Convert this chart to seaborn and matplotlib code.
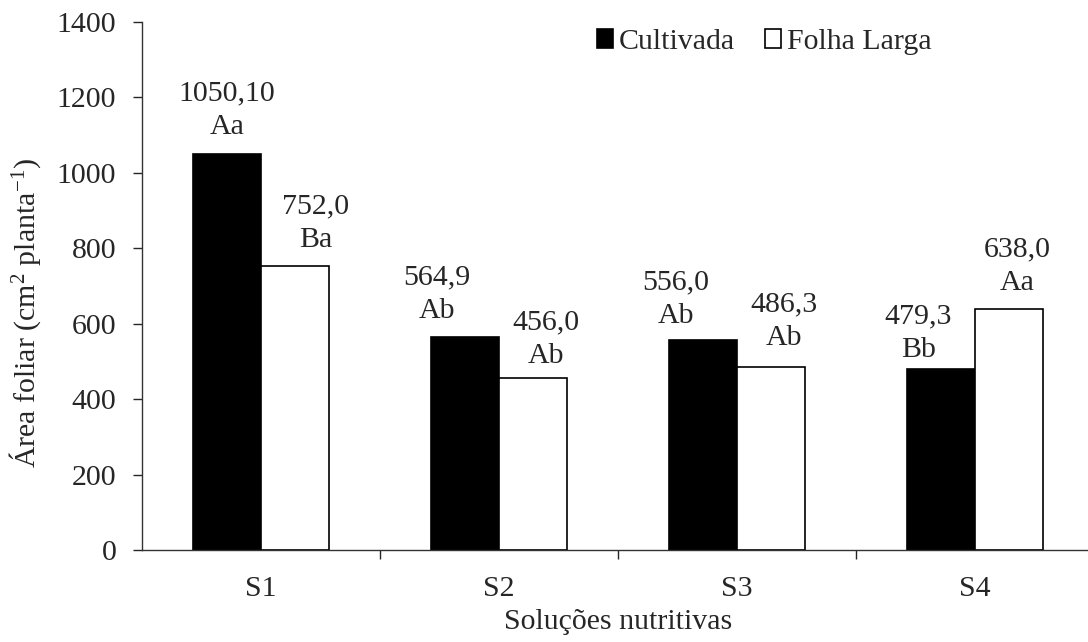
#!/usr/bin/env python3
# -*- coding: utf-8 -*-

import seaborn as sns
import matplotlib.pyplot as plt
import pandas as pd

# Data
solutions = ["S1", "S2", "S3", "S4"]
cultivada = [1050.10, 564.9, 556.0, 479.3]
folha_larga = [752.0, 456.0, 486.3, 638.0]
cultivada_text = ["1050,10", "564,9", "556,0", "479,3"]
folha_larga_text = ["752,0", "456,0", "486,3", "638,0"]
cultivada_letters = ["Aa", "Ab", "Ab", "Bb"]
folha_larga_letters = ["Ba", "Ab", "Ab", "Aa"]
groups = ["Cultivada", "Folha Larga"]
y_ticks = [0, 200, 400, 600, 800, 1000, 1200, 1400]

# label offsets (points) so the labels sit like the original
cult_offsets = [(0, 10), (-20, 9.5), (-19.5, 8), (-16, 4.5)]
folha_offsets = [(14.5, 9.5), (9.5, 6.5), (9.5, 11.5), (6, 9.5)]

sns.set_style("ticks")
plt.rcParams['font.family'] = ['Liberation Serif', 'DejaVu Serif']
plt.rcParams['mathtext.fontset'] = 'custom'
plt.rcParams['mathtext.rm'] = 'Liberation Serif'
plt.rcParams['mathtext.it'] = 'Liberation Serif:italic'

data = pd.DataFrame({
    'Solucao': solutions * 2,
    'Grupo': [groups[0]] * 4 + [groups[1]] * 4,
    'Area': cultivada + folha_larga,
})

fig = plt.figure(figsize=(10.88, 6.42), dpi=100)
ax = fig.add_axes([0.1305, 0.1433, 0.875, 0.8224])

sns.barplot(data=data, x='Solucao', y='Area', hue='Grupo',
            palette=['black', 'white'], edgecolor='black', linewidth=1.2,
            width=0.575, gap=0, ax=ax, legend=True)

fs = 21.5

# value labels
texts = [cultivada_text, folha_larga_text]
letters = [cultivada_letters, folha_larga_letters]
offsets = [cult_offsets, folha_offsets]
for k, cont in enumerate(ax.containers):
    for i, bar in enumerate(cont):
        xc = bar.get_x() + bar.get_width() / 2
        ax.annotate(texts[k][i] + "\n" + letters[k][i], (xc, bar.get_height()),
                    xytext=offsets[k][i], textcoords='offset points',
                    ha='center', va='bottom', fontsize=fs, linespacing=1.38,
                    multialignment='center')

ax.set_ylim(0, 1400)
ax.set_yticks(y_ticks)
ax.set_xlim(-0.5, 3.5)
ax.set_xticks(range(len(solutions)))
ax.set_xticklabels(solutions)
ax.set_xticks([0.5, 1.5, 2.5, 3.5], minor=True)

ax.tick_params(axis='y', length=6.5, width=1, pad=12, labelsize=fs, direction='out')
ax.tick_params(axis='x', which='major', length=0, pad=19, labelsize=fs)
ax.tick_params(axis='x', which='minor', length=6.5, width=1, direction='out')

sns.despine(ax=ax)
for s in ['left', 'bottom']:
    ax.spines[s].set_linewidth(1)
    ax.spines[s].set_color('#333333')

ax.set_ylabel("Área foliar (cm$^{\\mathregular{2}}$ planta$^{\\mathregular{-1}}$)", fontsize=fs)
ax.yaxis.set_label_coords(-0.104, 0.449)
ax.set_xlabel("Soluções nutritivas", fontsize=fs)
ax.xaxis.set_label_coords(0.5, -0.112)
ax.xaxis.label.set_va('top')

handles, labels = ax.get_legend_handles_labels()
ax.legend(handles, labels, ncol=2, frameon=False, fontsize=fs,
          loc='center left', bbox_to_anchor=(0.478, 0.962), borderpad=0,
          borderaxespad=0, handlelength=0.53, handleheight=0.6,
          handletextpad=0.2, columnspacing=1.0)

plt.savefig("out.png", dpi=100)
